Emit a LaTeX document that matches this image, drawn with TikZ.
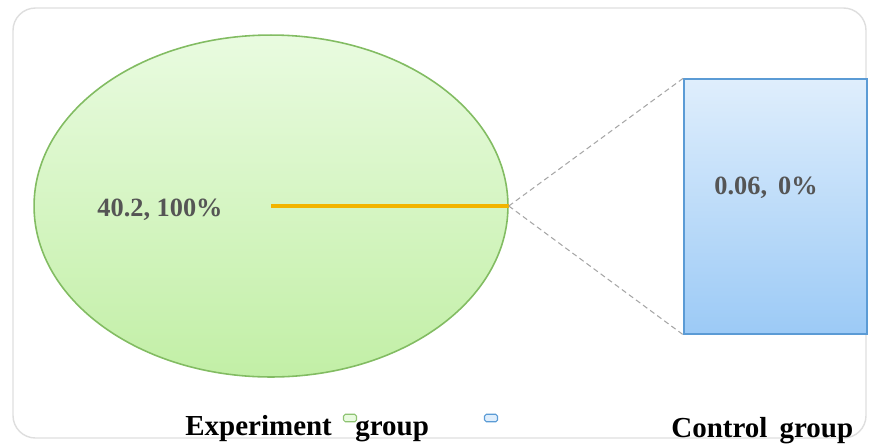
\documentclass[tikz,border=0pt]{standalone}
\usepackage{fontspec}
\setmainfont{Liberation Serif}
\usepackage{tikz}
\usetikzlibrary{calc, shapes.geometric, positioning}
\tikzset{>=latex}
\definecolor{pietop}{HTML}{E9FBE0}
\definecolor{piebot}{HTML}{C2EFA6}
\definecolor{pieedge}{HTML}{82BC62}
\definecolor{bartop}{HTML}{DFEEFC}
\definecolor{barbot}{HTML}{9CCAF6}
\definecolor{baredge}{HTML}{5B9BD5}
\definecolor{slice}{HTML}{F2B400}
\definecolor{valtext}{HTML}{555555}
\tikzset{
  value/.style={font=\fontsize{15}{18}\selectfont\bfseries, text=valtext},
  legtext/.style={font=\fontsize{16.5}{19}\selectfont\bfseries, anchor=base west, inner sep=0pt},
  legkey/.style={draw, rounded corners=1pt, line width=0.6pt, minimum width=0.26cm, minimum height=0.15cm, inner sep=0pt}
}

\begin{document}
\begin{tikzpicture}[x=0.02cm, y=-0.02cm]
\useasboundingbox (0,0) rectangle (874,444);
\draw[rounded corners=0.45cm, color=black!13, line width=0.8pt] (13,8) rectangle (866,438);

% the pie and its one slice
\node[ellipse, draw=pieedge, line width=0.9pt, top color=pietop, bottom color=piebot,
  minimum width=9.48cm, minimum height=6.84cm, inner sep=0pt] (exper) at (271,206) {};
\coordinate (centre) at (271,206);
\draw[slice, line width=2pt] (centre) -- (exper.east);
\node[value] (expval) at (160,210) {40.2, 100\%};

% the bar of the second group
\node[rectangle, draw=baredge, line width=0.9pt, top color=bartop, bottom color=barbot,
  minimum width=3.66cm, minimum height=5.1cm, inner sep=0pt] (ctrl) at (775.5,206.5) {};
\node[value] (ctrlval) at (766,188) {0.06,\, 0\%};
\path[draw=black!35, dashed, dash pattern=on 3pt off 2pt, line width=0.6pt]
(exper.east) edge (ctrl.north west)
(exper.east) edge (ctrl.south west);

% legend
\node[legtext] (legexp) at (185,435) {Experiment};
\node[legkey, draw=pieedge!90, fill=pietop] (keyexp) at (350,418) {};
\node[legtext] (leggrp) at (355,435) {group};
\node[legkey, draw=baredge, fill=bartop] (keyctrl) at (491,418) {};
\node[legtext] (legctrl) at (671,437) {Control\, group};
\end{tikzpicture}
\end{document}
